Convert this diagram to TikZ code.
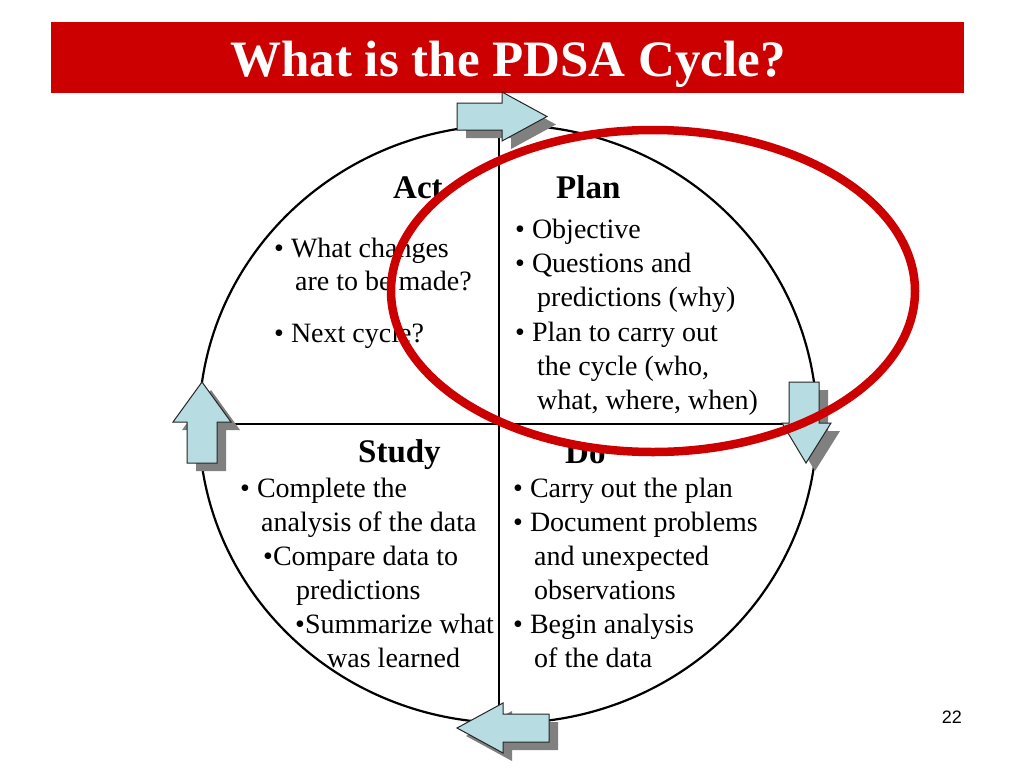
\documentclass[tikz,border=0pt]{standalone}
\usepackage{fontspec}
\setmainfont{Liberation Serif}
\newfontfamily\numfont{Liberation Sans}
\definecolor{slidered}{RGB}{204,0,0}
\definecolor{arrowfill}{RGB}{183,221,226}
\definecolor{shadowgray}{RGB}{128,128,128}
\tikzset{
  txt/.style={anchor=base west, inner sep=0pt, font=\fontsize{28}{34}\selectfont},
  quadhead/.style={anchor=base west, inner sep=0pt, font=\fontsize{33}{40}\selectfont\bfseries},
  arrowshape/.style={fill=arrowfill, draw=black!85, line width=1pt, line join=miter},
  arrowshadow/.style={fill=shadowgray},
  cycleline/.style={draw=black, line width=2.2pt},
  focusring/.style={draw=slidered, line width=8.5pt}
}
\begin{document}
\begin{tikzpicture}[x=1pt,y=-1pt]
\useasboundingbox[fill=white] (0,0) rectangle (1024,768);
% title bar
\fill[slidered] (51,22) rectangle (964,93);
\node[anchor=base, inner sep=0pt, text=white, font=\fontsize{51}{60}\selectfont\bfseries] (title) at (508,77) {What is the PDSA Cycle?};
% cycle
\draw[cycleline] (508,424) ellipse [x radius=309, y radius=299];
\draw[cycleline] (499,124) -- (499,723);
\draw[cycleline] (200,424) -- (817,424);
% arrows: shadows
\begin{scope}[shift={(9,8)}]
\fill[arrowshadow] (457,103) -- (502,103) -- (502,92) -- (547,116.5) -- (502,141) -- (502,130) -- (457,130) -- cycle;
\fill[arrowshadow] (202,382) -- (231,422) -- (217,422) -- (217,463) -- (187,463) -- (187,422) -- (173,422) -- cycle;
\fill[arrowshadow] (789,382) -- (819,382) -- (819,423) -- (831,423) -- (806,463) -- (782,423) -- (789,423) -- cycle;
\fill[arrowshadow] (457,728) -- (503,703) -- (503,714) -- (549,714) -- (549,742) -- (503,742) -- (503,753) -- cycle;
\end{scope}
% arrows
\draw[arrowshape] (457,103) -- (502,103) -- (502,92) -- (547,116.5) -- (502,141) -- (502,130) -- (457,130) -- cycle;
\draw[arrowshape] (202,382) -- (231,422) -- (217,422) -- (217,463) -- (187,463) -- (187,422) -- (173,422) -- cycle;
\draw[arrowshape] (789,382) -- (819,382) -- (819,423) -- (831,423) -- (806,463) -- (782,423) -- (789,423) -- cycle;
\draw[arrowshape] (457,728) -- (503,703) -- (503,714) -- (549,714) -- (549,742) -- (503,742) -- (503,753) -- cycle;
% Act
\node[quadhead] (acth) at (393,198) {Act};
\node[txt] (act1) at (274,257) {• What changes};
\node[txt] (act2) at (295,290) {are to be made?};
\node[txt] (act3) at (274,342) {• Next cycle?};
% Plan
\node[quadhead] (planh) at (556,198) {Plan};
\node[txt] (plan1) at (515,238) {• Objective};
\node[txt] (plan2) at (515,272) {• Questions and};
\node[txt] (plan3) at (537,306) {predictions (why)};
\node[txt] (plan4) at (515,341) {• Plan to carry out};
\node[txt] (plan5) at (537,375) {the cycle (who,};
\node[txt] (plan6) at (537,409) {what, where, when)};
% Study
\node[quadhead] (studyh) at (358,462) {Study};
\node[txt] (study1) at (240,497) {• Complete the};
\node[txt] (study2) at (261,531) {analysis of the data};
\node[txt] (study3) at (263,565) {•Compare data to};
\node[txt] (study4) at (296,599) {predictions};
\node[txt] (study5) at (295,633) {•Summarize what};
\node[txt] (study6) at (327,667) {was learned};
% Do
\node[quadhead] (doh) at (565,463) {Do};
\node[txt] (do1) at (513,497) {• Carry out the plan};
\node[txt] (do2) at (513,531) {• Document problems};
\node[txt] (do3) at (534,565) {and unexpected};
\node[txt] (do4) at (534,599) {observations};
\node[txt] (do5) at (513,633) {• Begin analysis};
\node[txt] (do6) at (534,667) {of the data};
% red focus ring
\draw[focusring] (653,291) ellipse [x radius=262, y radius=161];
% page number
\node[anchor=base east, inner sep=0pt, font=\numfont\fontsize{18}{22}\selectfont] (pagenum) at (962,723) {22};
\end{tikzpicture}
\end{document}
